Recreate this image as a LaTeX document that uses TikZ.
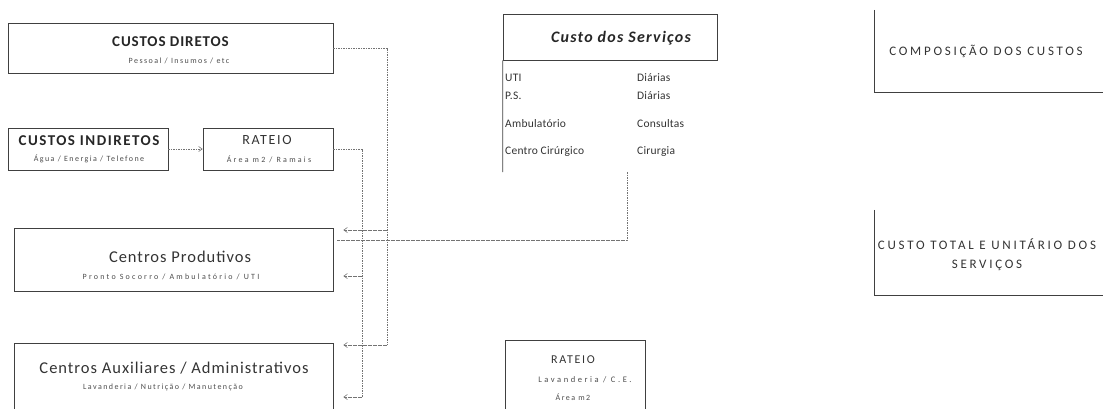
\documentclass[tikz,border=0pt]{standalone}
\usepackage{fontspec}
\setmainfont{Carlito}
\usetikzlibrary{arrows.meta}
\newcommand{\ls}[1]{\addfontfeature{LetterSpace=#1}}
\begin{document}
\begin{tikzpicture}[x=1pt,y=-1pt,
  box/.style={draw=black!75,line width=0.7pt,inner sep=0pt},
  ghost/.style={inner sep=0pt},
  edge/.style={draw=black!75,line width=0.7pt},
  conn/.style={draw=black!55,line width=0.6pt,dash pattern=on 1.6pt off 0.9pt},
  tip/.style={-{Straight Barb[length=3.5pt,width=5pt]}},
  btitle/.style={inner sep=0pt,text=black!85,font=\fontsize{15}{17}\selectfont\bfseries\ls{6}},
  rtitle/.style={inner sep=0pt,text=black!80,font=\fontsize{16.5}{18}\selectfont\ls{6}},
  stitle/.style={inner sep=0pt,text=black!80,font=\fontsize{14}{16}\selectfont\ls{12}},
  subt/.style={inner sep=0pt,text=black!70,font=\fontsize{8}{9}\selectfont\ls{18}},
  widesubt/.style={inner sep=0pt,text=black!70,font=\fontsize{8}{9}\selectfont\ls{28}},
  cell/.style={inner sep=0pt,anchor=west,text=black!80,font=\fontsize{11.5}{13}\selectfont\ls{2}},
  caps/.style={inner sep=0pt,text=black!80,font=\fontsize{13}{19}\selectfont\ls{21},align=center}
]
\useasboundingbox (0,0) rectangle (1103,408);
\clip (0,0) rectangle (1103,408);

% ---- boxes ----
\node[box,minimum width=325pt,minimum height=50pt] (dir) at (170.5,48) {};
\node[btitle] (dirT) at (170.5,42) {CUSTOS DIRETOS};
\node[subt] (dirS) at (179,61) {Pessoal / Insumos / etc};

\node[box,minimum width=160pt,minimum height=42pt] (ind) at (88,149) {};
\node[btitle,font=\fontsize{15}{17}\selectfont\bfseries\ls{10}] (indT) at (89,141) {CUSTOS INDIRETOS};
\node[subt] (indS) at (89,159) {Água / Energia / Telefone};

\node[box,minimum width=130pt,minimum height=42pt] (rat) at (268,149) {};
\node[stitle] (ratT) at (267,140) {RATEIO};
\node[widesubt] (ratS) at (269,159) {Área m2 / Ramais};

\node[box,minimum width=319pt,minimum height=63pt] (prod) at (173.5,259.5) {};
\node[rtitle] (prodT) at (180,257) {Centros Produtivos};
\node[widesubt] (prodS) at (171,277) {Pronto Socorro / Ambulatório / UTI};

\node[box,minimum width=319pt,minimum height=90pt] (aux) at (173.5,388) {};
\node[rtitle] (auxT) at (174,368) {Centros Auxiliares / Administrativos};
\node[subt] (auxS) at (163,387) {Lavanderia / Nutrição / Manutenção};

% ---- Custo dos Servicos table ----
\node[box,minimum width=214pt,minimum height=46pt] (servH) at (610,37) {};
\node[inner sep=0pt,text=black!85,font=\fontsize{16}{18}\selectfont\bfseries\itshape\ls{8}] (servT) at (621,38) {Custo dos Serviços};
\node[ghost,minimum width=214pt,minimum height=112pt] (serv) at (610,116) {};
\draw[edge] (servH.south west) -- (serv.south west);
\node[cell] (c1) at (505,78) {UTI};
\node[cell] (d1) at (637,78) {Diárias};
\node[cell] (c2) at (505,96) {P.S.};
\node[cell] (d2) at (637,96) {Diárias};
\node[cell] (c3) at (505,124) {Ambulatório};
\node[cell] (d3) at (637,124) {Consultas};
\node[cell] (c4) at (505,152) {Centro Cirúrgico};
\node[cell] (d4) at (637,152) {Cirurgia};

% ---- RATEIO (bottom) ----
\node[box,minimum width=140pt,minimum height=80pt] (rat2) at (575,380) {};
\node[stitle,font=\fontsize{12}{14}\selectfont\ls{14}] (rat2T) at (573,360) {RATEIO};
\node[widesubt,font=\fontsize{8.5}{9}\selectfont\ls{30}] (rat2S) at (585,380) {Lavanderia / C.E.};
\node[subt] (rat2A) at (573,397) {Área m2};

% ---- right boxes ----
\node[ghost,minimum width=240pt,minimum height=82pt] (comp) at (995,51) {};
\draw[edge] (comp.north west) |- (comp.south east);
\node[caps] (compT) at (986,51) {COMPOSIÇÃO DOS CUSTOS};

\node[ghost,minimum width=240pt,minimum height=85pt] (tot) at (995,252.5) {};
\draw[edge] (tot.north west) |- (tot.south east);
\node[caps] (totT) at (987,255) {CUSTO TOTAL E UNITÁRIO DOS\\SERVIÇOS};

% ---- connectors ----
\coordinate (dA) at (387,230);
\coordinate (dB) at (387,345);
\coordinate (rA) at (362,276);
\coordinate (rB) at (362,397);
\coordinate (sv) at (627,172);
\coordinate (pv) at (337,240);

\draw[conn,tip] (ind.east) -- (rat.west);

\draw[conn] (dir.east) -| (dB);
\draw[conn,tip,shorten >=10pt] (dA) -- (dA -| prod.east);
\draw[conn,tip,shorten >=10pt] (dB) -- (dB -| aux.east);

\draw[conn] (rat.east) -| (rB);
\draw[conn,tip,shorten >=10pt] (rA) -- (rA -| prod.east);
\draw[conn,tip,shorten >=10pt] (rB) -- (rB -| aux.east);

\draw[conn] (sv) |- (pv);
\end{tikzpicture}
\end{document}
